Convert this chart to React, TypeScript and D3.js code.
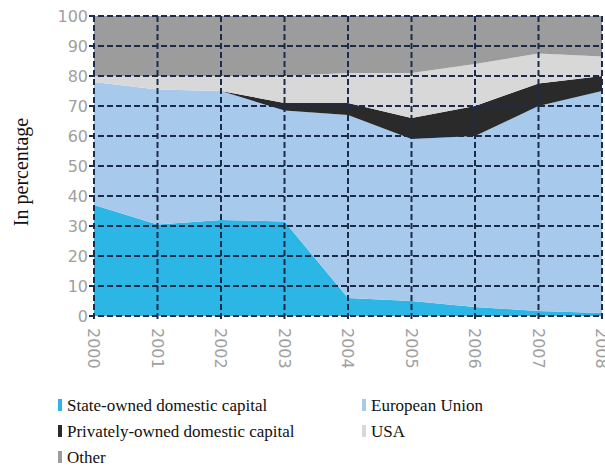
import * as d3 from "d3";

const years = [2000, 2001, 2002, 2003, 2004, 2005, 2006, 2007, 2008];
const stateOwned = [37, 30.5, 32, 31.5, 6, 5, 3, 1.7, 1];
const europeanUnion = [41, 45, 43, 37, 61, 54, 57, 68.3, 74];
const privatelyOwned = [0, 0, 0, 2.5, 4, 7, 10, 7.5, 5];
const usa = [2, 4.5, 5, 9, 10, 15, 14, 10, 6.5];
const other = [20, 20, 20, 20, 19, 19, 16, 12.5, 13.5];
const yTicks = [0, 10, 20, 30, 40, 50, 60, 70, 80, 90, 100];

const W = 605;
const H = 466;
const X0 = 94;
const X1 = 602;
const Y0 = 316;
const Y1 = 16;

const SERIF = "'Liberation Serif', 'Times New Roman', Times, serif";
const SANS = "'DejaVu Sans', sans-serif";

const keys = ["state", "eu", "private", "usa", "other"];
const COLORS: Record<string, string> = {
  state: "#2cb6e6",
  eu: "#a6c9ec",
  private: "#2a2a2a",
  usa: "#d8d8d8",
  other: "#9c9c9c",
};

const legend = [
  { key: "state", label: "State-owned domestic capital", col: 0, row: 0 },
  { key: "private", label: "Privately-owned domestic capital", col: 0, row: 1 },
  { key: "other", label: "Other", col: 0, row: 2 },
  { key: "eu", label: "European Union", col: 1, row: 0 },
  { key: "usa", label: "USA", col: 1, row: 1 },
];

export default function App() {
  const x = d3.scaleLinear().domain([2000, 2008]).range([X0, X1]);
  const y = d3.scaleLinear().domain([0, 100]).range([Y0, Y1]);

  const rows = years.map((yr, i) => ({
    year: yr,
    state: stateOwned[i],
    eu: europeanUnion[i],
    private: privatelyOwned[i],
    usa: usa[i],
    other: other[i],
  }));
  const series = d3.stack<any>().keys(keys)(rows);

  const area = d3
    .area<any>()
    .x((d) => x(d.data.year))
    .y0((d) => y(d[0]))
    .y1((d) => y(d[1]));

  const grid = "#1d2b4a";
  const dash = "6 3";

  return (
    <svg
      width={W}
      height={H}
      style={{ position: "absolute", left: 0, top: 0, background: "#fff" }}
    >
      {series.map((s) => (
        <path key={s.key} d={area(s as any) ?? ""} fill={COLORS[s.key]} />
      ))}

      {/* grid */}
      {yTicks.map((t) => (
        <line
          key={"h" + t}
          x1={X0 - 5}
          x2={X1}
          y1={y(t)}
          y2={y(t)}
          stroke={grid}
          strokeWidth={2}
          strokeDasharray={dash}
        />
      ))}
      {years.map((yr) => (
        <line
          key={"v" + yr}
          x1={x(yr)}
          x2={x(yr)}
          y1={Y1}
          y2={Y0 + 5}
          stroke={grid}
          strokeWidth={2}
          strokeDasharray={dash}
        />
      ))}

      {/* y tick labels */}
      {yTicks.map((t) => (
        <text
          key={"yl" + t}
          x={X0 - 6}
          y={y(t)}
          dy="0.36em"
          textAnchor="end"
          fontFamily={SANS}
          fontSize={16}
          fill="#a0a0a0"
        >
          {t}
        </text>
      ))}

      {/* x tick labels */}
      {years.map((yr) => (
        <text
          key={"xl" + yr}
          transform={`translate(${x(yr)},${Y0 + 12}) rotate(90)`}
          dy="0.36em"
          textAnchor="start"
          fontFamily={SANS}
          fontSize={16}
          fill="#a0a0a0"
        >
          {yr}
        </text>
      ))}

      {/* y axis title */}
      <text
        transform="translate(28,172) rotate(-90)"
        textAnchor="middle"
        fontFamily={SERIF}
        fontSize={20}
        fill="#111"
      >
        In percentage
      </text>

      {/* legend */}
      {legend.map((l) => {
        const lx = l.col === 0 ? 58 : 362;
        const ly = 405 + l.row * 26;
        return (
          <g key={l.key}>
            <rect x={lx} y={ly - 6} width={4} height={12} fill={COLORS[l.key]} />
            <text
              x={lx + 9}
              y={ly}
              dy="0.33em"
              fontFamily={SERIF}
              fontSize={17}
              fill="#111"
            >
              {l.label}
            </text>
          </g>
        );
      })}
    </svg>
  );
}
